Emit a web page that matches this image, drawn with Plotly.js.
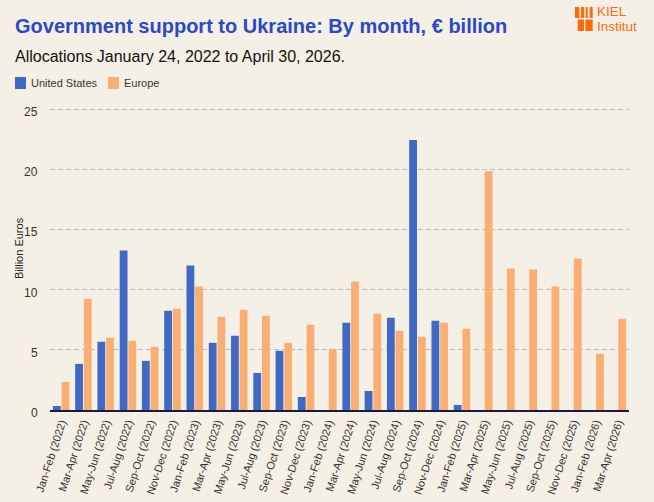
<!DOCTYPE html>
<html>
<head>
<meta charset="utf-8">
<script src="https://cdn.plot.ly/plotly-3.0.1.min.js"></script>
<style>
  html, body { margin: 0; padding: 0; background: #f5f0e6; }
  #chart { width: 654px; height: 502px; }
</style>
</head>
<body>
<div id="chart"></div>
<script>
// two-month periods, Jan 2022 to Apr 2026
var periods = [
  'Jan-Feb (2022)', 'Mar-Apr (2022)', 'May-Jun (2022)', 'Jul-Aug (2022)', 'Sep-Oct (2022)', 'Nov-Dec (2022)',
  'Jan-Feb (2023)', 'Mar-Apr (2023)', 'May-Jun (2023)', 'Jul-Aug (2023)', 'Sep-Oct (2023)', 'Nov-Dec (2023)',
  'Jan-Feb (2024)', 'Mar-Apr (2024)', 'May-Jun (2024)', 'Jul-Aug (2024)', 'Sep-Oct (2024)', 'Nov-Dec (2024)',
  'Jan-Feb (2025)', 'Mar-Apr (2025)', 'May-Jun (2025)', 'Jul-Aug (2025)', 'Sep-Oct (2025)', 'Nov-Dec (2025)',
  'Jan-Feb (2026)', 'Mar-Apr (2026)'
];

var unitedStates = [
  0.33, 3.83, 5.67, 13.25, 4.08, 8.25,
  12.0, 5.58, 6.17, 3.08, 4.92, 1.08,
  0, 7.25, 1.58, 7.67, 22.42, 7.42,
  0.42, 0, 0, 0, 0, 0,
  0, 0
];

var europe = [
  2.33, 9.25, 6.0, 5.75, 5.25, 8.42,
  10.25, 7.75, 8.33, 7.83, 5.58, 7.08,
  5.08, 10.67, 8.0, 6.58, 6.08, 7.25,
  6.75, 19.83, 11.75, 11.67, 10.25, 12.58,
  4.67, 7.58
];

var yTicks = [0, 5, 10, 15, 20, 25];

var seriesNames = ['United States', 'Europe'];
var seriesColors = ['#4169c4', '#f9ae74'];

var font = 'Liberation Sans, Arial, sans-serif';
var orange = '#ff6a0d';

var traces = [
  {type: 'bar', name: seriesNames[0], x: periods, y: unitedStates,
   marker: {color: seriesColors[0]}, hoverinfo: 'x+y'},
  {type: 'bar', name: seriesNames[1], x: periods, y: europe,
   marker: {color: seriesColors[1]}, hoverinfo: 'x+y'}
];

// pixel -> paper helpers (plot area is 50..629 x 87..410)
function px(x) { return (x - 50) / 579; }
function py(y) { return (410 - y) / 323; }

function box(x0, y0, x1, y1, color) {
  return {type: 'rect', xref: 'paper', yref: 'paper', layer: 'above',
    x0: px(x0), x1: px(x1), y0: py(y1), y1: py(y0),
    fillcolor: color, line: {width: 0}};
}

function label(x, y, text, size, color) {
  return {xref: 'paper', yref: 'paper', x: px(x), y: py(y),
    xanchor: 'left', yanchor: 'middle', showarrow: false,
    text: text, font: {size: size, color: color, family: font}};
}

// y tick labels placed on the y scale, a bit further left than plotly's default
var tickLabels = yTicks.map(function (v) {
  return {xref: 'paper', yref: 'y', x: px(40), y: v, yshift: -3,
    xanchor: 'right', yanchor: 'middle', showarrow: false,
    text: String(v), font: {size: 12, color: '#333', family: font}};
});

var layout = {
  width: 654, height: 502,
  paper_bgcolor: '#f5f0e6', plot_bgcolor: '#f5f0e6',
  margin: {l: 50, r: 25, t: 87, b: 92},
  font: {family: font, color: '#333'},
  barmode: 'group', bargap: 0.22, bargroupgap: 0.1,
  showlegend: false,
  xaxis: {type: 'category', tickangle: -72, tickfont: {size: 11, color: '#333'},
    showgrid: false, ticks: '', showline: true, linecolor: '#1a1a40', linewidth: 2,
    fixedrange: true},
  yaxis: {range: [0, 26.83], tickvals: yTicks, showticklabels: false,
    showgrid: true, gridcolor: '#bdbdbd',
    griddash: '5px,3px', gridwidth: 1.4, zeroline: false, ticks: '',
    fixedrange: true},
  annotations: [
    label(13, 26, '<b>Government support to Ukraine: By month, € billion</b>', 20, '#2a49c6'),
    label(13, 56, 'Allocations January 24, 2022 to April 30, 2026.', 16, '#111'),
    label(595, 11.5, 'KIEL', 13.5, orange),
    label(595, 26, 'Institut', 13.5, orange),
    label(29, 83, seriesNames[0], 11, '#333'),
    label(122, 83, seriesNames[1], 11, '#333'),
    {xref: 'paper', yref: 'paper', x: px(19), y: py(248), textangle: -90,
     xanchor: 'center', yanchor: 'middle', showarrow: false,
     text: 'Billion Euros', font: {size: 11, color: '#222', family: font}}
  ].concat(tickLabels),
  shapes: [
    box(575, 7, 579.3, 18, orange), box(581, 7, 584.3, 18, orange),
    box(585.7, 7, 587.7, 18, orange), box(589.7, 7, 592.7, 18, orange),
    box(577.7, 19.5, 584, 31, orange), box(585.3, 19.5, 592.7, 31, orange),
    box(15, 77, 26, 89, seriesColors[0]), box(108, 77, 119, 89, seriesColors[1])
  ]
};

Plotly.newPlot('chart', traces, layout, {displayModeBar: false});
</script>
</body>
</html>
